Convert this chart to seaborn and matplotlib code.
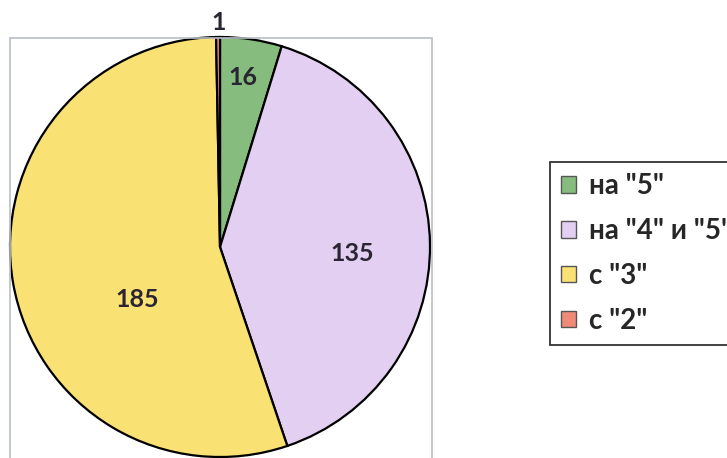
import matplotlib
matplotlib.use("Agg")
import matplotlib.pyplot as plt
from matplotlib.patches import Rectangle
import seaborn as sns

# ---- data ----
categories = ['на "5"', 'на "4" и "5"', 'с "3"', 'с "2"']
values = [16, 135, 185, 1]
colors = ["#86bd7e", "#e3cff1", "#f9e173", "#f08a78"]

# label positions (in pie-radius units), styling only
label_pos = [(0.11, 0.805), (0.629, -0.029), (-0.395, -0.252), (-0.005, 1.071)]

sns.set_theme(style="white")
plt.rcParams["font.family"] = ["Lato", "DejaVu Sans"]

W, H = 727, 458
fig = plt.figure(figsize=(W / 100, H / 100), dpi=100)
fig.patch.set_facecolor("white")

# plot-area border
fig.patches.append(Rectangle((10 / W, -0.05), 422 / W, 1 - 38 / H + 0.05,
                             transform=fig.transFigure, fill=False,
                             edgecolor="#b9bdc6", linewidth=1.2, zorder=0))

cx, cy, r = 220, 247, 210
ax = fig.add_axes([(cx - r) / W, (H - cy - r) / H, 2 * r / W, 2 * r / H])
pal = sns.color_palette(colors)
wedges, _ = ax.pie(values, colors=pal, startangle=90, counterclock=False,
                   wedgeprops=dict(edgecolor="black", linewidth=1.6),
                   radius=1.0)
ax.set_xlim(-1, 1)
ax.set_ylim(-1, 1)
ax.set_aspect("equal")
ax.axis("off")

for v, (x, y) in zip(values, label_pos):
    ax.text(x, y, str(v), ha="center", va="center", fontsize=18,
            fontweight="bold", color="#2a2533", clip_on=False)

leg = fig.legend(wedges, categories, loc="upper left",
                 bbox_to_anchor=(550 / W, 1 - 162 / H),
                 bbox_transform=fig.transFigure,
                 frameon=True, fancybox=False, shadow=False,
                 prop=dict(size=20, weight="bold"),
                 handlelength=0.55, handleheight=0.55, handletextpad=0.45,
                 borderpad=0.4, labelspacing=0.68, borderaxespad=0)
leg.get_frame().set_edgecolor("black")
leg.get_frame().set_linewidth(1.3)
for h in leg.legend_handles:
    h.set_edgecolor("#555555")
    h.set_linewidth(1.0)

fig.savefig("out.png", dpi=100)
